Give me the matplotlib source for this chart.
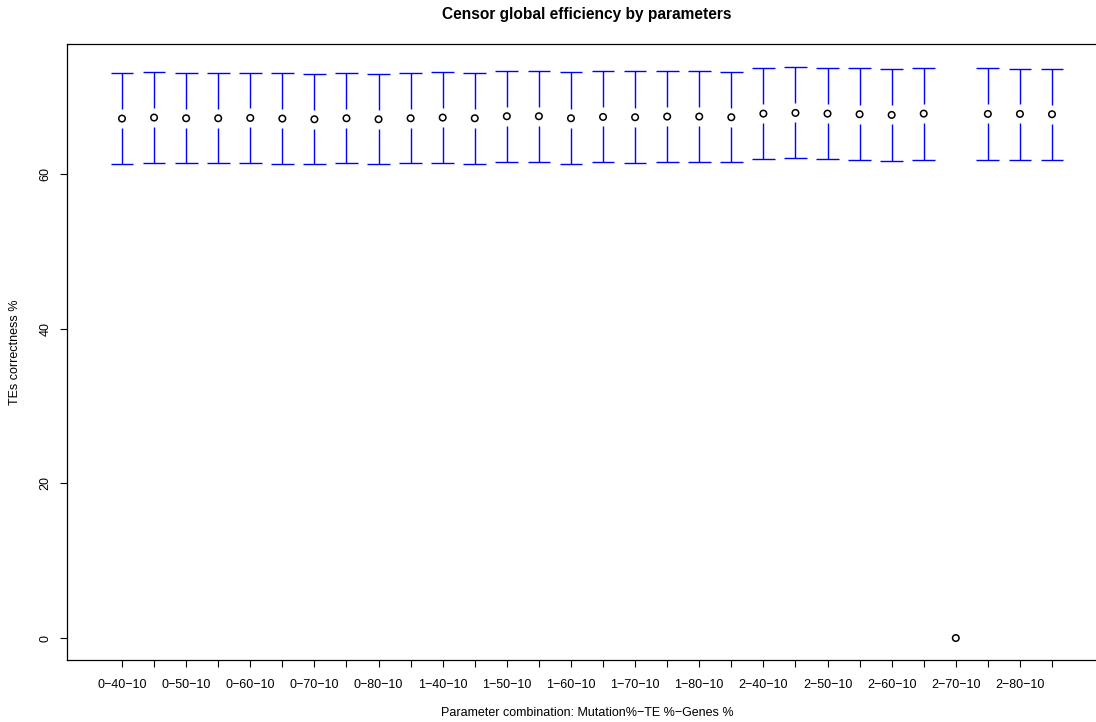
import numpy as np
import matplotlib
matplotlib.use("Agg")
import matplotlib.pyplot as plt

plt.rcParams['font.family'] = ['Liberation Sans', 'DejaVu Sans']

# mean correctness and the ends of the error bars, one entry per run
means = [67.16, 67.29, 67.20, 67.20, 67.24, 67.16, 67.07, 67.20, 67.07, 67.20,
         67.29, 67.20, 67.46, 67.46, 67.20, 67.37, 67.33, 67.42, 67.42, 67.33,
         67.80, 67.89, 67.80, 67.72, 67.63, 67.80, 0.0, 67.76, 67.76, 67.72]
upper = [73.02, 73.15, 73.06, 73.06, 73.11, 73.02, 72.98, 73.06, 72.93, 73.06,
         73.24, 73.11, 73.37, 73.37, 73.15, 73.28, 73.28, 73.37, 73.37, 73.24,
         73.71, 73.80, 73.71, 73.67, 73.58, 73.67, 0.0, 73.67, 73.62, 73.58]
lower = [61.34, 61.42, 61.38, 61.38, 61.38, 61.34, 61.25, 61.38, 61.25, 61.38,
         61.38, 61.30, 61.60, 61.60, 61.30, 61.55, 61.47, 61.55, 61.55, 61.51,
         61.94, 62.03, 61.90, 61.77, 61.73, 61.86, 0.0, 61.86, 61.81, 61.81]

# only every other combination gets a label on the axis
shown_labels = ["0-40-10", "0-50-10", "0-60-10", "0-70-10", "0-80-10",
                "1-40-10", "1-50-10", "1-60-10", "1-70-10", "1-80-10",
                "2-40-10", "2-50-10", "2-60-10", "2-70-10", "2-80-10"]
y_ticks = [0, 20, 40, 60]

W, H = 1096, 722
fig = plt.figure(figsize=(W / 100, H / 100), dpi=100)

# plot box, its right side runs past the edge of the image
left, right, top, bottom = 67, 1107, 44, 660
ax = fig.add_axes([left / W, 1 - bottom / H, (right - left) / W, (bottom - top) / H])

x = np.arange(1, len(means) + 1)
ax.set_xlim(-0.715, 31.715)
ax.set_ylim(-2.84, 76.8)

# gap around each point, in data units
ppu = (bottom - top) / (76.8 + 2.84)
gap = 9.5 / ppu
cap = 0.355

for xi, m, lo, hi in zip(x, means, lower, upper):
    if hi - lo <= 0:
        continue
    ax.vlines(xi, m + gap, hi, color='blue', lw=1.0)
    ax.vlines(xi, lo, m - gap, color='blue', lw=1.0)
    ax.hlines([lo, hi], xi - cap, xi + cap, color='blue', lw=1.0)

ax.scatter(x, means, s=22, facecolors='none', edgecolors='black', linewidths=1.1, zorder=3)

for sp in ax.spines.values():
    sp.set_color('black')
    sp.set_linewidth(0.9)

ax.set_xticks(x)
ax.set_xticklabels([shown_labels[i // 2].replace('-', '\u2212') if i % 2 == 0 else ''
                    for i in range(len(x))])
ax.set_yticks(y_ticks)
ax.set_yticklabels([str(v) for v in y_ticks], rotation=90, va='center')
ax.tick_params(axis='x', length=5, width=0.8, pad=8.5, labelsize=9.0)
ax.tick_params(axis='y', length=5, width=0.8, pad=6, labelsize=9.0)

fig.text(587 / W, 1 - 14 / H, "Censor global efficiency by parameters",
         ha='center', va='center', fontsize=11.2, fontweight='bold')
fig.text(587 / W, 1 - 713 / H, "Parameter combination: Mutation%\u2212TE %\u2212Genes %",
         ha='center', va='center', fontsize=9.0)
fig.text(15 / W, 1 - 352 / H, "TEs correctness %", rotation=90,
         ha='center', va='center', fontsize=9.0)

fig.savefig("out.png", dpi=100)
